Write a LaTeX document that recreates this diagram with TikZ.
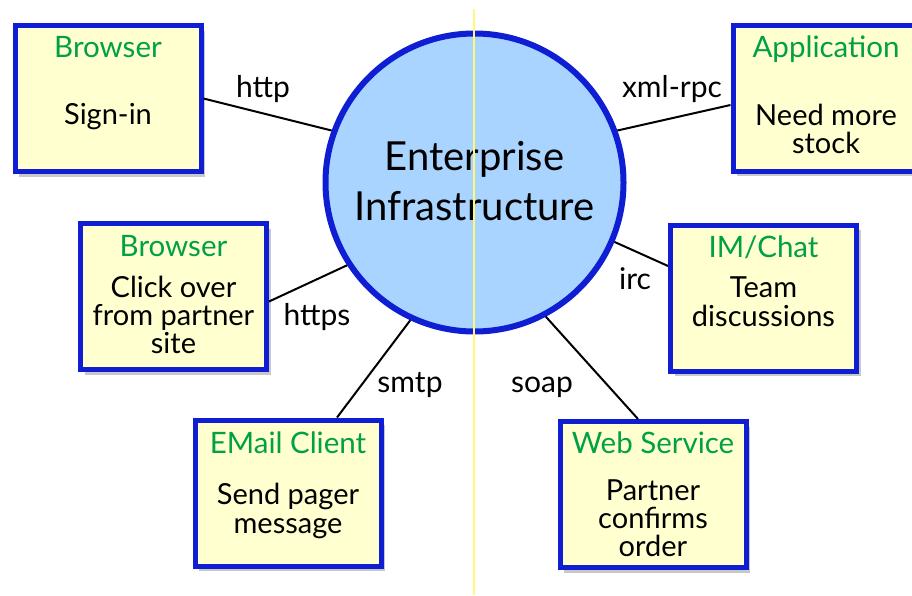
\documentclass[tikz,border=0pt]{standalone}
\usepackage{fontspec}
\setmainfont{Lato}
\usetikzlibrary{shadows}
\definecolor{boxfill}{RGB}{255,255,208}
\definecolor{edgeblue}{RGB}{15,30,210}
\definecolor{titlegreen}{RGB}{0,160,70}
\definecolor{circfill}{RGB}{168,212,255}
\definecolor{guideyellow}{RGB}{255,248,120}
\tikzset{
  sysbox/.style={draw=edgeblue, line width=5pt, fill=boxfill, rectangle,
    minimum width=186pt, minimum height=146pt, inner sep=0pt,
    drop shadow={shadow xshift=4pt, shadow yshift=-5pt, opacity=0.3, fill=black!70}},
  hub/.style={draw=edgeblue, line width=6pt, fill=circfill, circle,
    minimum size=298pt, inner sep=0pt},
  title/.style={anchor=base, text=titlegreen, font=\fontsize{29.5}{31}\selectfont, inner sep=0pt},
  body/.style={anchor=base, text=black, font=\fontsize{29}{31}\selectfont, inner sep=0pt},
  proto/.style={anchor=base, text=black, font=\fontsize{30}{31}\selectfont, inner sep=0pt},
  hubtext/.style={anchor=base, text=black, font=\fontsize{40}{42}\selectfont, inner sep=0pt},
  link/.style={draw=black, line width=2pt},
  guide/.style={draw=guideyellow, line width=1.5pt}
}
\begin{document}
\begin{tikzpicture}[x=1pt, y=-1pt]
\useasboundingbox (0,0) rectangle (912,595);
\fill[white] (0,0) rectangle (912,595);

% hub
\node[hub] (ent) at (474.5,182.5) {};
\node[hubtext] (entA) at (474.5,170) {Enterprise};
\node[hubtext] (entB) at (474.5,220) {Infrastructure};

% boxes
\node[sysbox] (b1) at (108,98.5) {};
\node[sysbox] (b2) at (826,98) {};
\node[sysbox] (b3) at (173.5,296.5) {};
\node[sysbox] (b4) at (763.5,298) {};
\node[sysbox] (b5) at (288,493) {};
\node[sysbox] (b6) at (653,494.5) {};

% box texts
\node[title] (b1t) at (108,57) {Browser};
\node[body] (b1a) at (108,124) {Sign-in};

\node[title] (b2t) at (826,57) {Application};
\node[body] (b2a) at (826,125) {Need more};
\node[body] (b2b) at (826,153) {stock};

\node[title] (b3t) at (173.5,256) {Browser};
\node[body] (b3a) at (173.5,297) {Click over};
\node[body] (b3b) at (173.5,325) {from partner};
\node[body] (b3c) at (173.5,353) {site};

\node[title] (b4t) at (763.5,257) {IM/Chat};
\node[body] (b4a) at (763.5,297) {Team};
\node[body] (b4b) at (763.5,326) {discussions};

\node[title] (b5t) at (288,453) {EMail Client};
\node[body] (b5a) at (288,504) {Send pager};
\node[body] (b5b) at (288,533) {message};

\node[title] (b6t) at (653,453) {Web Service};
\node[body] (b6a) at (653,500) {Partner};
\node[body] (b6b) at (653,528) {confirms};
\node[body] (b6c) at (653,556) {order};

% connectors
\draw[link] (b1.east) -- (ent.160);
\draw[link] ([yshift=-7pt]b2.west) -- (ent.20);
\draw[link] ([yshift=-5pt]b3.east) -- (ent.213);
\draw[link] ([yshift=32pt]b4.west) -- (ent.-23);
\draw[link] ([xshift=49pt]b5.north) -- (ent.245);
\draw[link] ([xshift=-15pt]b6.north) -- (ent.298.5);

% protocol labels
\node[proto] (lhttp) at (263,97) {http};
\node[proto] (lxml) at (672,97) {xml-rpc};
\node[proto] (lhttps) at (317,325) {https};
\node[proto] (lirc) at (635,289) {irc};
\node[proto] (lsmtp) at (410,392) {smtp};
\node[proto] (lsoap) at (542,392) {soap};

% yellow guide line
\coordinate (gtop) at (474,9);
\coordinate (gbot) at (474,595);
\draw[guide] (gtop) -- (gbot);
\end{tikzpicture}
\end{document}
